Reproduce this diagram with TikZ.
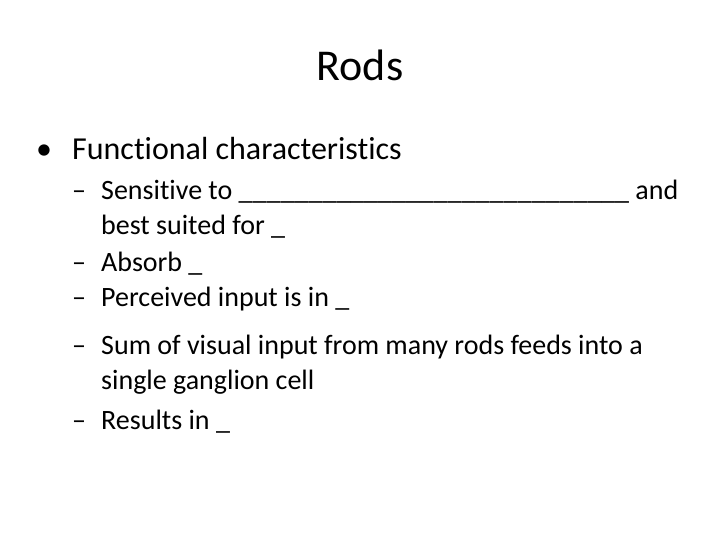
\documentclass[tikz,border=0pt]{standalone}
\usepackage{fontspec}
\setmainfont[Ligatures={NoCommon}]{Carlito}
\begin{document}
\begin{tikzpicture}[x=1pt,y=-1pt,
  t/.style={anchor=base west,inner sep=0pt,font=\fontsize{28}{28}\selectfont},
  d/.style={anchor=base west,inner sep=0pt,font=\fontsize{28}{28}\selectfont}]
\useasboundingbox[fill=white] (0,0) rectangle (720,540);
\node[anchor=base,inner sep=0pt,font=\fontsize{44}{44}\selectfont] (title) at (360,81) {Rods};
\node[anchor=base west,inner sep=0pt,font=\fontsize{32}{32}\selectfont] (bul) at (36,160) {•};
\node[anchor=base west,inner sep=0pt,font=\fontsize{32}{32}\selectfont] (b1) at (72,160) {Functional characteristics};
\node[d] (d1) at (72,200) {–};
\node[t] (s1) at (101,200) {Sensitive to \_\_\_\_\_\_\_\_\_\_\_\_\_\_\_\_\_\_\_\_\_\_\_\_\_\_\_\_ and};
\node[t] (s1b) at (101,235) {best suited for \_};
\node[d] (d2) at (72,271) {–};
\node[t] (s2) at (101,271) {Absorb \_};
\node[d] (d3) at (72,306) {–};
\node[t] (s3) at (101,306) {Perceived input is in \_};
\node[d] (d4) at (72,354) {–};
\node[t] (s4) at (101,354) {Sum of visual input from many rods feeds into a};
\node[t] (s4b) at (101,389) {single ganglion cell};
\node[d] (d5) at (72,429) {–};
\node[t] (s5) at (101,429) {Results in \_};
\end{tikzpicture}
\end{document}
